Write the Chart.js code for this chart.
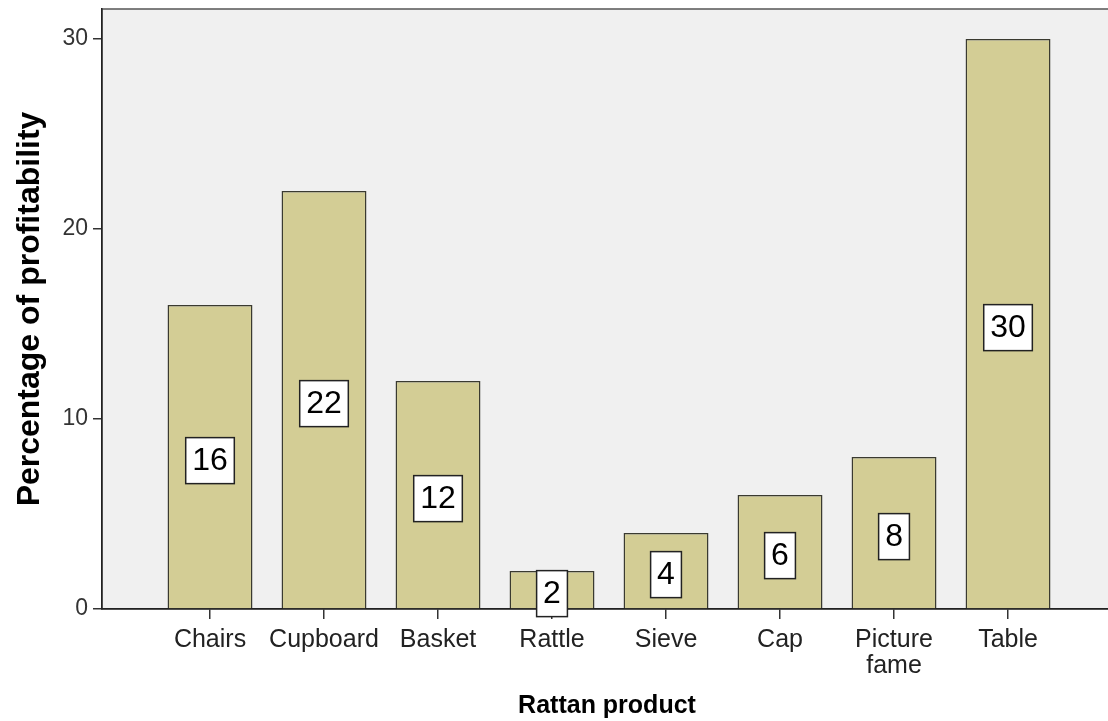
<!DOCTYPE html>
<html>
<head>
<meta charset="utf-8">
<script src="https://cdn.jsdelivr.net/npm/chart.js@4/dist/chart.umd.min.js"></script>
<style>
  html, body { margin: 0; padding: 0; background: #fff; overflow: hidden; }
  #wrap { width: 1120px; height: 721px; }
</style>
</head>
<body>
<div id="wrap"><canvas id="chart" width="1120" height="721"></canvas></div>
<script>
// chart data
const products = ['Chairs', 'Cupboard', 'Basket', 'Rattle', 'Sieve', 'Cap', ['Picture', 'fame'], 'Table'];
const profitability = [16, 22, 12, 2, 4, 6, 8, 30];
const yTicks = [0, 10, 20, 30];

const FONT = '"Liberation Sans", Arial, sans-serif';

// grey plot background + frame
const plotBackground = {
  id: 'plotBackground',
  beforeDraw(chart) {
    const { ctx, chartArea: a } = chart;
    ctx.save();
    ctx.fillStyle = '#f0f0f0';
    ctx.fillRect(a.left, a.top, a.right - a.left, a.bottom - a.top);
    ctx.strokeStyle = '#555';
    ctx.lineWidth = 1.5;
    ctx.strokeRect(a.left, a.top, a.right - a.left, a.bottom - a.top);
    ctx.restore();
  }
};

// white boxed value labels in the middle of each bar
const valueBoxes = {
  id: 'valueBoxes',
  afterDatasetsDraw(chart) {
    const { ctx } = chart;
    const meta = chart.getDatasetMeta(0);
    ctx.save();
    ctx.font = '32px ' + FONT;
    ctx.textAlign = 'center';
    ctx.textBaseline = 'middle';
    meta.data.forEach((bar, i) => {
      const txt = String(profitability[i]);
      const cx = bar.x;
      const cy = (bar.y + bar.base) / 2 + 4;
      const w = ctx.measureText(txt).width + 13;
      const h = 46;
      ctx.fillStyle = '#fff';
      ctx.fillRect(cx - w / 2, cy - h / 2, w, h);
      ctx.strokeStyle = '#222';
      ctx.lineWidth = 1.5;
      ctx.strokeRect(cx - w / 2, cy - h / 2, w, h);
      ctx.fillStyle = '#000';
      ctx.fillText(txt, cx, cy + 1);
    });
    ctx.restore();
  }
};

new Chart(document.getElementById('chart'), {
  type: 'bar',
  data: {
    datasets: [{
      data: profitability.map((v, i) => ({ x: i + 1, y: v })),
      backgroundColor: '#d3cd95',
      borderColor: '#3a3a30',
      borderWidth: 1.5,
      barPercentage: 1,
      categoryPercentage: 0.745
    }]
  },
  options: {
    responsive: false,
    animation: false,
    layout: { padding: { top: 9, right: 8, left: 0, bottom: 0 } },
    plugins: {
      legend: { display: false },
      tooltip: { enabled: false }
    },
    scales: {
      x: {
        type: 'linear',
        offset: false,
        min: 0.0526,
        max: 8.912,
        afterBuildTicks: s => { s.ticks = products.map((_, i) => ({ value: i + 1 })); },
        afterFit: s => { s.height = 112; s.paddingLeft = 0; s.paddingRight = 0; },
        grid: { offset: false, drawOnChartArea: false, tickLength: 10, color: '#333', lineWidth: 1.5 },
        border: { display: true, color: '#222', width: 1.5 },
        ticks: {
          color: '#222',
          font: { family: FONT, size: 25, lineHeight: 1.05 },
          padding: 8,
          maxRotation: 0,
          autoSkip: false,
          callback: (v) => products[v - 1]
        },
        title: {
          display: true,
          text: 'Rattan product',
          color: '#000',
          font: { family: FONT, size: 25, weight: 'bold' },
          padding: { top: 10, bottom: 0 }
        }
      },
      y: {
        min: 0,
        max: 31.58,
        afterBuildTicks: s => { s.ticks = yTicks.map(v => ({ value: v })); },
        afterFit: s => { s.width = 102; s.paddingTop = 0; s.paddingBottom = 0; },
        grid: { drawOnChartArea: false, tickLength: 9, color: '#333', lineWidth: 1.5 },
        border: { display: true, color: '#222', width: 1.5 },
        ticks: {
          color: '#333',
          font: { family: FONT, size: 23 },
          padding: 5
        },
        title: {
          display: true,
          text: 'Percentage of profitability',
          color: '#000',
          font: { family: FONT, size: 32, weight: 'bold' },
          padding: { bottom: 0, top: 11 }
        }
      }
    }
  },
  plugins: [plotBackground, valueBoxes]
});
</script>
</body>
</html>
